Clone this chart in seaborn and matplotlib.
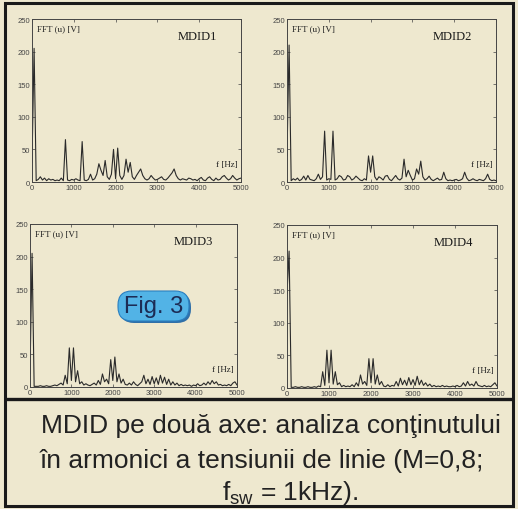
import numpy as np
import pandas as pd
import matplotlib
matplotlib.use("Agg")
import matplotlib.pyplot as plt
import seaborn as sns
from matplotlib.patches import FancyBboxPatch, Rectangle

# ---------------- data (amplitude of FFT at 50 Hz steps, 0..5000 Hz) ----------------
freq_hz = list(range(0, 5001, 50))

mdid1 = [30, 205, 2, 4, 8, 3, 6, 2, 5, 3,
         4, 2, 3, 2, 6, 2, 65, 3, 2, 4,
         3, 5, 3, 2, 62, 3, 2, 4, 12, 3,
         5, 12, 28, 18, 10, 33, 8, 4, 12, 50,
         5, 52, 10, 4, 10, 35, 15, 30, 8, 4,
         10, 15, 20, 10, 5, 3, 5, 10, 6, 3,
         4, 6, 8, 4, 3, 6, 10, 14, 20, 10,
         5, 3, 5, 4, 3, 6, 5, 3, 4, 2,
         5, 7, 3, 2, 6, 8, 4, 2, 6, 3,
         4, 8, 10, 6, 3, 5, 10, 6, 3, 5, 6]

mdid2 = [40, 210, 2, 5, 3, 6, 2, 4, 9, 3,
         10, 4, 3, 2, 5, 12, 4, 8, 78, 3,
         5, 4, 78, 3, 5, 10, 8, 3, 4, 10,
         8, 3, 5, 9, 6, 3, 2, 5, 3, 40,
         15, 40, 8, 3, 8, 6, 3, 9, 10, 4,
         2, 6, 10, 5, 3, 6, 35, 8, 18, 10,
         3, 5, 20, 12, 32, 8, 3, 5, 9, 4,
         2, 4, 6, 3, 4, 15, 5, 2, 3, 2,
         3, 4, 2, 3, 5, 15, 6, 2, 3, 5,
         3, 2, 4, 3, 2, 5, 12, 4, 2, 3, 2]

mdid3 = [20, 205, 1, 1, 1, 2, 1, 1, 2, 1,
         1, 2, 3, 2, 4, 6, 3, 18, 5, 60,
         10, 60, 8, 25, 5, 8, 3, 5, 3, 2,
         4, 6, 3, 10, 4, 20, 8, 12, 5, 42,
         10, 46, 8, 20, 6, 12, 4, 3, 6, 3,
         8, 4, 2, 5, 8, 18, 5, 12, 4, 16,
         5, 14, 4, 18, 6, 15, 4, 12, 3, 8,
         3, 6, 2, 4, 2, 3, 2, 3, 1, 3,
         2, 5, 2, 3, 6, 3, 8, 4, 10, 5,
         8, 3, 4, 2, 3, 2, 4, 2, 6, 8, 3]

mdid4 = [145, 210, 1, 1, 2, 1, 1, 2, 1, 1,
         2, 1, 1, 2, 1, 3, 2, 25, 4, 58,
         8, 58, 6, 25, 5, 8, 2, 4, 2, 3,
         2, 5, 2, 8, 3, 20, 6, 10, 4, 45,
         8, 45, 6, 20, 5, 10, 3, 2, 5, 2,
         4, 3, 10, 3, 15, 5, 12, 4, 16, 5,
         13, 4, 18, 5, 12, 4, 8, 3, 6, 2,
         4, 2, 3, 2, 4, 2, 3, 2, 2, 3,
         2, 4, 2, 3, 8, 3, 10, 4, 6, 3,
         10, 4, 3, 2, 4, 2, 3, 2, 5, 8, 3]

panel_names = ["MDID1", "MDID2", "MDID3", "MDID4"]
panel_values = [mdid1, mdid2, mdid3, mdid4]
x_ticks = [0, 1000, 2000, 3000, 4000, 5000]
y_ticks = [0, 50, 100, 150, 200, 250]
y_label_text = "FFT (u) [V]"
x_label_text = "f [Hz]"
caption_lines = ["MDID pe două axe: analiza conţinutului",
                 "în armonici a tensiunii de linie (M=0,8;",
                 r"$\mathregular{f_{sw}}$ = 1kHz)."]
badge_text = "Fig. 3"

# ---------------- style ----------------
sns.set_theme(style="white")
bg = "#eee8cf"
plt.rcParams["font.family"] = ["Liberation Sans", "DejaVu Sans"]
plt.rcParams["mathtext.fontset"] = "custom"
plt.rcParams["mathtext.rm"] = "Liberation Sans"
plt.rcParams["mathtext.it"] = "Liberation Sans"

W, H = 518, 510
fig = plt.figure(figsize=(W / 100, H / 100), dpi=100, facecolor=bg)

def fx(px):
    return px / W

def fy(py):
    return 1 - py / H

axes_px = [(32, 241, 20, 183), (287, 496, 20, 183),
           (30, 237, 225, 388), (287, 497, 226, 389)]

for (l, r, t, b), name, vals in zip(axes_px, panel_names, panel_values):
    ax = fig.add_axes([fx(l), fy(b), (r - l) / W, (b - t) / H])
    ax.set_facecolor(bg)
    df = pd.DataFrame({"f": freq_hz, "amp": vals})
    sns.lineplot(data=df, x="f", y="amp", ax=ax, color="#2a2a2a", linewidth=0.8)
    ax.set_xlim(0, 5000)
    ax.set_ylim(0, 250)
    ax.set_xticks(x_ticks)
    ax.set_yticks(y_ticks)
    ax.set_xlabel("")
    ax.set_ylabel("")
    ax.tick_params(axis="both", which="both", direction="in", length=2, width=0.5,
                   labelsize=5.5, labelcolor="#444444", color="#444444", pad=1.2,
                   top=True, right=True, bottom=True, left=True)
    for s in ax.spines.values():
        s.set_visible(True)
        s.set_linewidth(0.7)
        s.set_color("#444444")
    ax.text(0.025, 0.945, y_label_text, transform=ax.transAxes, fontsize=6.5,
            family="Liberation Serif", color="#222222", va="center", ha="left")
    ax.text(0.885, 0.895, name, transform=ax.transAxes, fontsize=9,
            family="Liberation Serif", color="#1a1a1a", va="center", ha="right")
    ax.text(0.985, 0.11, x_label_text, transform=ax.transAxes, fontsize=6.5,
            family="Liberation Serif", color="#222222", va="center", ha="right")

# frame lines
ov = fig.add_axes([0, 0, 1, 1], facecolor="none")
ov.set_xlim(0, W)
ov.set_ylim(H, 0)
ov.axis("off")
ov.add_patch(Rectangle((5, 4), 508, 503, fill=False, edgecolor="#1a1a1a", linewidth=2.2))
ov.plot([5, 513], [400, 400], color="#1a1a1a", linewidth=2.4, solid_capstyle="butt")

# Fig. 3 badge
ov.add_patch(FancyBboxPatch((120, 294), 71, 30, boxstyle="round,pad=0,rounding_size=14",
                            facecolor="#2f6fa8", edgecolor="none"))
ov.add_patch(FancyBboxPatch((118, 292), 71, 30, boxstyle="round,pad=0,rounding_size=14",
                            facecolor="#52b3e6", edgecolor="#2a7fc0", linewidth=0.8))
ov.text(154, 307, badge_text, fontsize=17, color="#1c2c55", ha="center", va="center")

# caption
ov.text(271, 426, caption_lines[0], fontsize=19, color="#222222", ha="center", va="center")
ov.text(262, 461, caption_lines[1], fontsize=19, color="#222222", ha="center", va="center")
ov.text(290, 493, caption_lines[2], fontsize=19, color="#222222", ha="center", va="center")

fig.savefig("out.png", dpi=100, facecolor=bg)
